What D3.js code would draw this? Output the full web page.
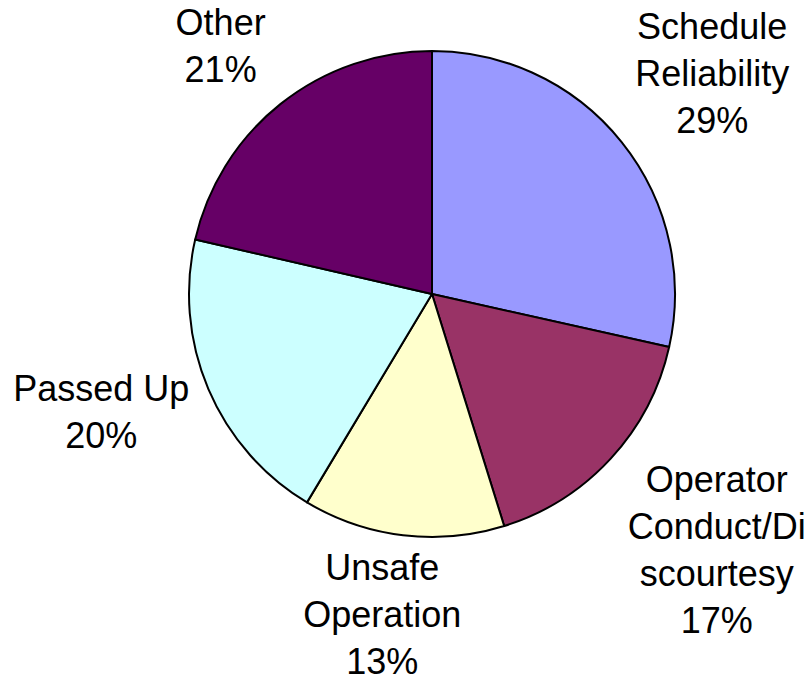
<!DOCTYPE html>
<meta charset="utf-8">
<script src="https://d3js.org/d3.v7.min.js"></script>
<style>
  body { margin: 0; background: #fff; }
  text { font-family: "Liberation Sans", Arial, sans-serif; }
</style>
<div id="chart"></div>
<script>
  // data, clockwise from 12 o'clock
  const categories = ["Schedule Reliability", "Operator Conduct/Discourtesy", "Unsafe Operation", "Passed Up", "Other"];
  const values = [28.5, 16.7, 13.4, 20.0, 21.4];
  // label lines as wrapped in the original
  const labelLines = [
    ["Schedule", "Reliability"],
    ["Operator", "Conduct/Di", "scourtesy"],
    ["Unsafe", "Operation"],
    ["Passed Up"],
    ["Other"]
  ];
  const colors = ["#9999FF", "#993366", "#FFFFCC", "#CCFFFF", "#660066"];

  // label placement: distance from centre and small turn (deg) off the mid-angle
  const labelDist = [357, 383, 324, 351, 326];
  const labelTurn = [0.4, -0.7, 2, 3.5, -1.9];

  const width = 812, height = 683;
  const cx = 432, cy = 294, radius = 243;
  const fontSize = 36, lineH = 47;

  const svg = d3.select("#chart")
    .append("svg")
    .attr("width", width)
    .attr("height", height);

  const g = svg.append("g")
    .attr("transform", `translate(${cx}, ${cy})`);

  const data = categories.map((c, i) => ({ name: c, value: values[i], lines: labelLines[i], i: i }));

  const pie = d3.pie()
    .value(d => d.value)
    .sort(null);

  const arc = d3.arc()
    .innerRadius(0)
    .outerRadius(radius);

  const arcs = pie(data);

  g.selectAll("path")
    .data(arcs)
    .join("path")
    .attr("d", arc)
    .attr("fill", d => colors[d.data.i])
    .attr("stroke", "#000")
    .attr("stroke-width", 2)
    .attr("stroke-linejoin", "round");

  // labels
  const labels = g.selectAll("g.label")
    .data(arcs)
    .join("g")
    .attr("class", "label")
    .attr("transform", d => {
      const a = (d.startAngle + d.endAngle) / 2 + labelTurn[d.data.i] * Math.PI / 180;
      const r = labelDist[d.data.i];
      return `translate(${r * Math.sin(a)}, ${-r * Math.cos(a)})`;
    });

  labels.each(function (d) {
    const lines = d.data.lines.concat([Math.round(d.data.value) + "%"]);
    const n = lines.length;
    const y0 = -(n - 1) * lineH / 2 + fontSize * 0.716 / 2;
    d3.select(this).selectAll("text")
      .data(lines)
      .join("text")
      .attr("x", 0)
      .attr("y", (t, k) => y0 + k * lineH)
      .attr("text-anchor", "middle")
      .style("font-size", fontSize + "px")
      .attr("fill", "#000")
      .text(t => t);
  });
</script>
